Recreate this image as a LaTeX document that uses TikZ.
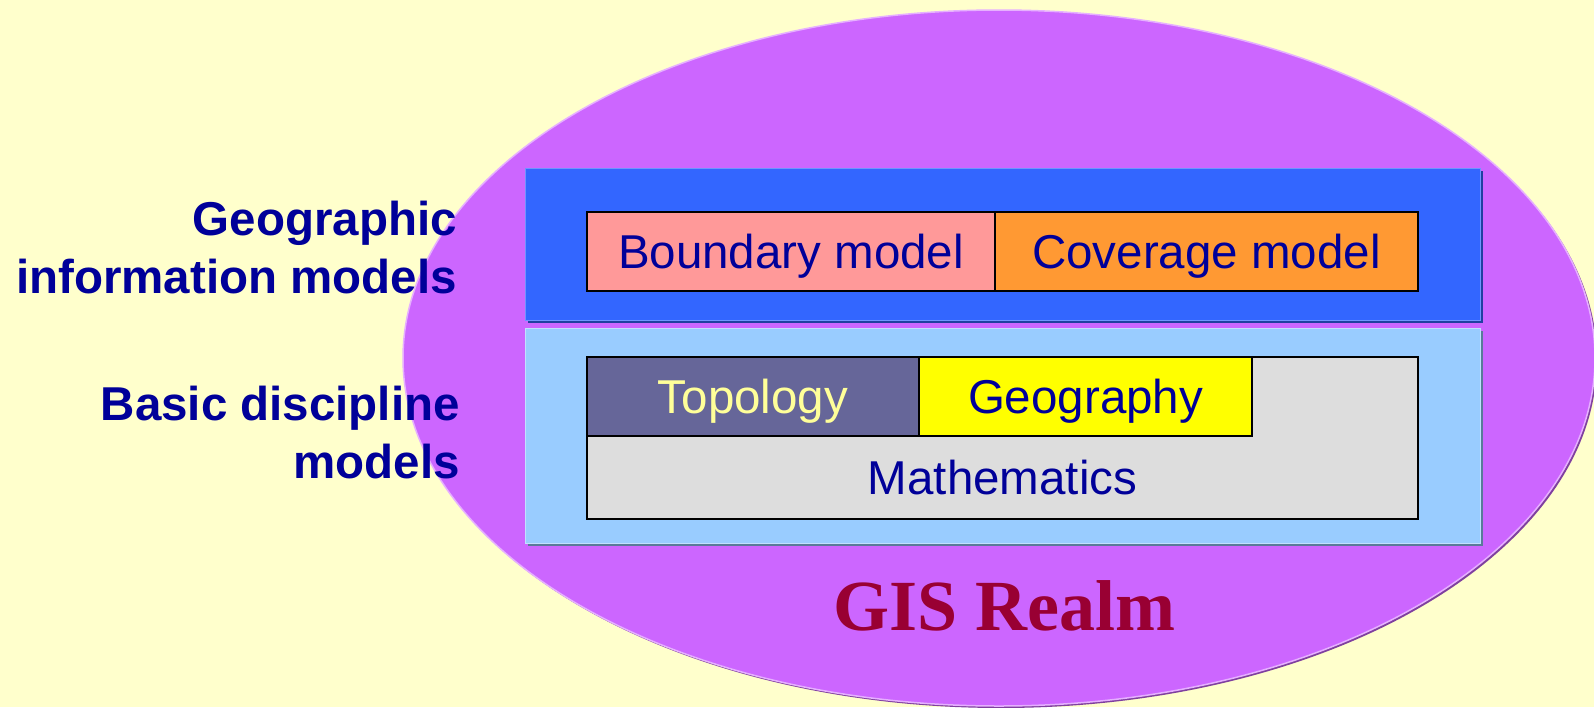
\documentclass[tikz,border=0pt]{standalone}
\usepackage{fontspec}
\setmainfont{Liberation Sans}
\newfontfamily\realmfont{Liberation Serif}
\usetikzlibrary{positioning,shapes.geometric,shadows}

\definecolor{bgyellow}{HTML}{FFFFCC}
\definecolor{realm}{HTML}{CC66FF}
\definecolor{realmrim}{HTML}{E6B0FF}
\definecolor{realmshade}{HTML}{7F3F9F}
\definecolor{modelblue}{HTML}{3366FF}
\definecolor{modelshade}{HTML}{2040A0}
\definecolor{basicblue}{HTML}{99CCFF}
\definecolor{basicshade}{HTML}{5A7A99}
\definecolor{boundary}{HTML}{FF9999}
\definecolor{coverage}{HTML}{FF9933}
\definecolor{topology}{HTML}{666699}
\definecolor{topotext}{HTML}{FFFF99}
\definecolor{geography}{HTML}{FFFF00}
\definecolor{maths}{HTML}{DDDDDD}
\definecolor{navy}{HTML}{000099}
\definecolor{realmtext}{HTML}{990033}

\begin{document}
\begin{tikzpicture}[x=1pt,y=-1pt,
    box/.style={rectangle,draw,line width=1.5pt,inner sep=0pt,outer sep=0pt,minimum height=79pt,text=navy,text height=34pt,text depth=0pt,font=\fontsize{47.5}{58}\selectfont},
    band/.style={rectangle,inner sep=0pt,minimum width=955pt},
    sidelabel/.style={align=right,inner sep=0pt,anchor=base east,text=navy,font=\bfseries\fontsize{47.5}{58}\selectfont}
]

\def \BANDX {1002.5}; % centre of the two bands

% Background
\fill[bgyellow] (0,0) rectangle (1594,707);
\useasboundingbox (0,0) rectangle (1594,707);

% GIS realm
\node[ellipse,fill=realm,draw=realmrim,line width=1.5pt,minimum width=1192pt,minimum height=696pt,inner sep=0pt,
    drop shadow={shadow xshift=2pt,shadow yshift=-2pt,fill=realmshade,opacity=1}] (realm) at (999,358) {};
\node[anchor=base,inner sep=0pt,text=realmtext,font=\realmfont\bfseries\fontsize{72}{80}\selectfont] (realmname) at (1004,630) {GIS Realm};

% Bands
\node[band,fill=modelblue,minimum height=152pt,draw=modelblue!70!white,
    drop shadow={shadow xshift=3pt,shadow yshift=-3pt,fill=modelshade,opacity=1}] (infoband) at (\BANDX,244) {};
\node[band,fill=basicblue,minimum height=215pt,draw=basicblue!60!white,
    drop shadow={shadow xshift=3pt,shadow yshift=-3pt,fill=basicshade,opacity=1}] (basicband) at (\BANDX,435.5) {};

% Geographic information models
\node[box,fill=boundary,minimum width=408pt] (boundary) at (791,251.5) {Boundary model};
\node[box,fill=coverage,minimum width=423pt,right=0pt of boundary] (coverage) {Coverage model};

% Basic discipline models
\node[box,fill=maths,minimum width=831pt,minimum height=162pt] (maths) at (\BANDX,438) {};
\node[box,fill=topology,text=topotext,minimum width=332pt] (topology) at (753,396.5) {Topology};
\node[box,fill=geography,minimum width=333pt,right=0pt of topology] (geography) {Geography};
\node[box,draw=none,minimum height=0pt] (mathsname) at (\BANDX,477.5) {Mathematics};

% Side labels (anchored at the last line)
\node[sidelabel] (infolabel) at (457,293) {Geographic\\information models};
\node[sidelabel] (basiclabel) at (460,478) {Basic discipline\\models};

\end{tikzpicture}
\end{document}
